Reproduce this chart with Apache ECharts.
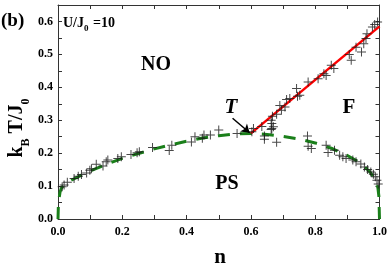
<!DOCTYPE html>
<html><head><meta charset="utf-8">
<script src="https://cdn.jsdelivr.net/npm/echarts@6/dist/echarts.min.js"></script>
<style>html,body{margin:0;padding:0;background:#fff}#c{width:390px;height:278px}</style>
</head><body><div id="c"></div>
<script>
const curveN = [0, 0.001, 0.003, 0.006, 0.01, 0.02, 0.04, 0.07, 0.1, 0.15, 0.2, 0.25, 0.3, 0.35, 0.4, 0.45, 0.5, 0.55, 0.6, 0.65, 0.7, 0.75, 0.8, 0.85, 0.9, 0.93, 0.95, 0.97, 0.98, 0.99, 0.995, 0.998, 1.0];
const curveT = [0, 0.035, 0.06, 0.08, 0.093, 0.105, 0.117, 0.132, 0.146, 0.166, 0.184, 0.199, 0.213, 0.225, 0.236, 0.246, 0.253, 0.258, 0.260, 0.257, 0.251, 0.243, 0.231, 0.215, 0.193, 0.176, 0.162, 0.143, 0.130, 0.112, 0.095, 0.07, 0];
const ferroN = [0.6, 1.0];
const ferroT = [0.26, 0.585];
const crossN = [0.013,0.019,0.029,0.050,0.063,0.073,0.089,0.099,0.104,0.119,0.140,0.150,0.155,0.186,0.197,0.227,0.246,0.253,0.294,0.346,0.354,0.415,0.426,0.454,0.449,0.474,0.500,0.557,0.608,0.634,0.642,0.642,0.665,0.670,0.680,0.663,0.776,0.778,0.788,0.834,0.840,0.860,0.876,0.886,0.896,0.917,0.927,0.942,0.953,0.963,0.973,0.981,0.987,0.992,0.996,0.603,0.667,0.663,0.665,0.680,0.695,0.690,0.706,0.711,0.721,0.742,0.745,0.752,0.778,0.809,0.827,0.834,0.850,0.858,0.906,0.912,0.927,0.944,0.951,0.958,0.961,0.978,0.985,0.994];
const crossT = [0.098,0.103,0.112,0.123,0.130,0.135,0.140,0.148,0.153,0.166,0.161,0.174,0.179,0.184,0.189,0.196,0.201,0.204,0.217,0.208,0.224,0.234,0.250,0.255,0.245,0.255,0.270,0.260,0.275,0.281,0.252,0.242,0.290,0.280,0.233,0.272,0.252,0.221,0.214,0.224,0.202,0.209,0.194,0.189,0.184,0.179,0.174,0.167,0.158,0.150,0.143,0.136,0.128,0.118,0.106,0.265,0.312,0.300,0.275,0.318,0.330,0.345,0.340,0.363,0.366,0.396,0.373,0.376,0.416,0.426,0.441,0.436,0.467,0.457,0.500,0.482,0.522,0.507,0.532,0.548,0.563,0.583,0.591,0.598];
const xTicks = ['0.0','0.2','0.4','0.6','0.8','1.0'];
const yTicks = ['0.0','0.1','0.2','0.3','0.4','0.5','0.6'];

const FF = '"Liberation Serif","Times New Roman",serif';
const chart = echarts.init(document.getElementById('c'));
const zip = (a, b) => a.map((v, i) => [v, b[i]]);
const axisCommon = {
  type: 'value',
  axisLine: {show: true, onZero: false, lineStyle: {color: '#333', width: 1}},
  axisTick: {show: true, inside: true, length: 4, lineStyle: {color: '#333'}},
  minorTick: {show: true, splitNumber: 2, length: 4, lineStyle: {color: '#333'}},
  splitLine: {show: false},
  minorSplitLine: {show: false}
};
const labelStyle = {color: '#000', fontFamily: FF, fontWeight: 'bold', fontSize: 12};
chart.setOption({
  animation: false,
  grid: {left: 58, right: 8, top: 5, bottom: 59},
  xAxis: [
    Object.assign({}, axisCommon, {min: 0, max: 1, interval: 0.2, position: 'bottom',
      axisLabel: Object.assign({}, labelStyle, {margin: 7, formatter: v => xTicks[Math.round(v / 0.2)] || ''})}),
    Object.assign({}, axisCommon, {min: 0, max: 1, interval: 0.2, position: 'top', axisLabel: {show: false}})
  ],
  yAxis: [
    Object.assign({}, axisCommon, {min: 0, max: 0.65, interval: 0.1, position: 'left',
      axisLabel: Object.assign({}, labelStyle, {margin: 5, showMaxLabel: false,
        formatter: v => { const i = Math.round(v / 0.1); return Math.abs(v - i * 0.1) < 1e-6 ? (yTicks[i] || '') : ''; }})}),
    Object.assign({}, axisCommon, {min: 0, max: 0.65, interval: 0.1, position: 'right', axisLabel: {show: false}})
  ],
  series: [
    {type: 'line', data: zip(curveN, curveT), showSymbol: false, symbol: 'none', z: 2,
      lineStyle: {color: '#1a7f1a', width: 3, type: [12, 10]}},
    {type: 'line', data: zip(ferroN, ferroT), showSymbol: false, symbol: 'none', z: 3,
      lineStyle: {color: '#ff0000', width: 2.5}},
    {type: 'scatter', data: zip(crossN, crossT), z: 4,
      symbol: 'path://M4,0H5V4H9V5H5V9H4V5H0V4H4Z', symbolSize: 9,
      itemStyle: {color: '#1a1a1a'}},
    {type: 'lines', coordinateSystem: 'cartesian2d', z: 5,
      symbol: ['none', 'arrow'], symbolSize: 8,
      lineStyle: {color: '#000', width: 1.5, opacity: 1},
      data: [{coords: [[0.543, 0.306], [0.596, 0.262]]}]}
  ],
  graphic: [
    {type: 'text', left: 1, top: 12, style: {text: '(b)', font: 'bold 19px ' + FF, fill: '#000'}},
    {type: 'text', x: 63, y: 22, style: {
      text: '{m|U/J}{s|0}{m| =10}', verticalAlign: 'middle', fill: '#000',
      rich: {m: {font: 'bold 14px ' + FF, lineHeight: 16, verticalAlign: 'bottom'},
             s: {font: 'bold 9px ' + FF, lineHeight: 9, verticalAlign: 'bottom', padding: [0, 1, -3, 0]}}}},
    {type: 'text', x: 156, y: 65, style: {text: 'NO', font: 'bold 20px ' + FF, fill: '#000', align: 'center', verticalAlign: 'middle'}},
    {type: 'text', x: 349, y: 108, style: {text: 'F', font: 'bold 21px ' + FF, fill: '#000', align: 'center', verticalAlign: 'middle'}},
    {type: 'text', x: 231, y: 108, style: {text: 'T', font: 'italic bold 21px ' + FF, fill: '#000', align: 'center', verticalAlign: 'middle'}},
    {type: 'text', x: 227, y: 184, style: {text: 'PS', font: 'bold 20px ' + FF, fill: '#000', align: 'center', verticalAlign: 'middle'}},
    {type: 'text', x: 220, y: 258, style: {text: 'n', font: 'bold 21px ' + FF, fill: '#000', align: 'center', verticalAlign: 'middle'}},
    {type: 'text', x: 16, y: 128, rotation: Math.PI / 2, style: {
      text: '{m|k}{s|B}{m| T/J}{s|0}', align: 'center', verticalAlign: 'middle', fill: '#000',
      rich: {m: {font: 'bold 20px ' + FF, lineHeight: 22, verticalAlign: 'bottom'},
             s: {font: 'bold 12px ' + FF, lineHeight: 12, verticalAlign: 'bottom', padding: [0, 0, -5, 0]}}}}
  ]
});
</script></body></html>
